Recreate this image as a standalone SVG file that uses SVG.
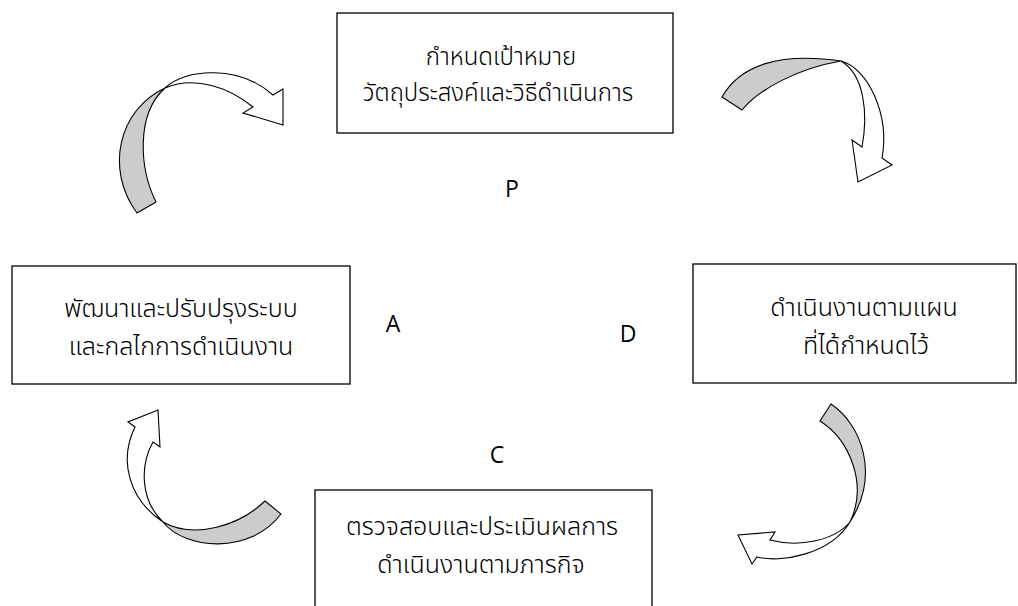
<svg xmlns="http://www.w3.org/2000/svg" width="1018" height="606" viewBox="0 0 1018 606">
<style>
.box{fill:#fff;stroke:#000;stroke-width:1.3}
.th{font-family:"Noto Sans Thai","Noto Sans Thai Looped","Noto Sans","DejaVu Sans",sans-serif;font-size:25px;font-weight:300;fill:#000;text-anchor:middle}
.sm{font-size:24px}
.lt{font-family:"Open Sans","Liberation Sans",sans-serif;font-size:23px;fill:#000;text-anchor:middle}
.band{fill:#cccccc;stroke:#000;stroke-width:1.1;stroke-linejoin:miter}
.head{fill:#fff;stroke:#000;stroke-width:1.1;stroke-linejoin:miter}
</style>
<rect width="1018" height="606" fill="#fff"/>
<g id="node-plan">
<rect class="box" x="337" y="13" width="336" height="120"/>
<text class="th sm" x="501" y="65">กำหนดเป้าหมาย</text>
<text class="th sm" x="498" y="101">วัตถุประสงค์และวิธีดำเนินการ</text>
</g>
<g id="node-act">
<rect class="box" x="12" y="266" width="338" height="118"/>
<text class="th" x="181" y="317">พัฒนาและปรับปรุงระบบ</text>
<text class="th" x="181" y="355">และกลไกการดำเนินงาน</text>
</g>
<g id="node-do">
<rect class="box" x="693" y="264" width="323" height="119"/>
<text class="th" x="864" y="316">ดำเนินงานตามแผน</text>
<text class="th" x="866" y="354">ที่ได้กำหนดไว้</text>
</g>
<g id="node-check">
<rect class="box" x="315" y="490" width="337" height="130"/>
<text class="th" x="482" y="535">ตรวจสอบและประเมินผลการ</text>
<text class="th" x="481" y="573">ดำเนินงานตามภารกิจ</text>
</g>
<g id="labels">
<text class="lt" x="512" y="197">P</text>
<text class="lt" x="393" y="332">A</text>
<text class="lt" x="628" y="342">D</text>
<text class="lt" x="497" y="463">C</text>
</g>
<g id="connectors">
<g id="arrow-a-p">
<path class="band" d="M137,213 L156,202 C140,170 135,115 165,88 C118,110 105,170 137,213 Z"/>
<path class="head" d="M165,88 C185,68 240,65 273,95 L283,89 L283,125 L243,113 L253,107 C230,88 195,75 165,88 Z"/>
</g>
<g id="arrow-p-d">
<path class="band" d="M722,97 L742,110 C760,88 800,68 841,61 C780,52 740,65 722,97 Z"/>
<path class="head" d="M841,61 C868,68 890,115 882,158 L892,165 L858,182 L852,140 L862,147 C868,115 865,75 841,61 Z"/>
</g>
<g id="arrow-d-c">
<path class="band" d="M820,421 L831,404 C862,425 880,475 850,522 C868,485 850,440 820,421 Z"/>
<path class="head" d="M850,522 C835,540 800,548 770,540 L775,532 L738,535 L752,564 L757,557 C780,563 830,555 850,522 Z"/>
</g>
<g id="arrow-c-a">
<path class="band" d="M265,501 L281,514 C250,555 185,550 163,522 C195,540 240,525 265,501 Z"/>
<path class="head" d="M163,522 C130,500 118,462 135,427 L128,422 L158,410 L160,447 L153,442 C140,465 140,500 163,522 Z"/>
</g>
</g>
</svg>
